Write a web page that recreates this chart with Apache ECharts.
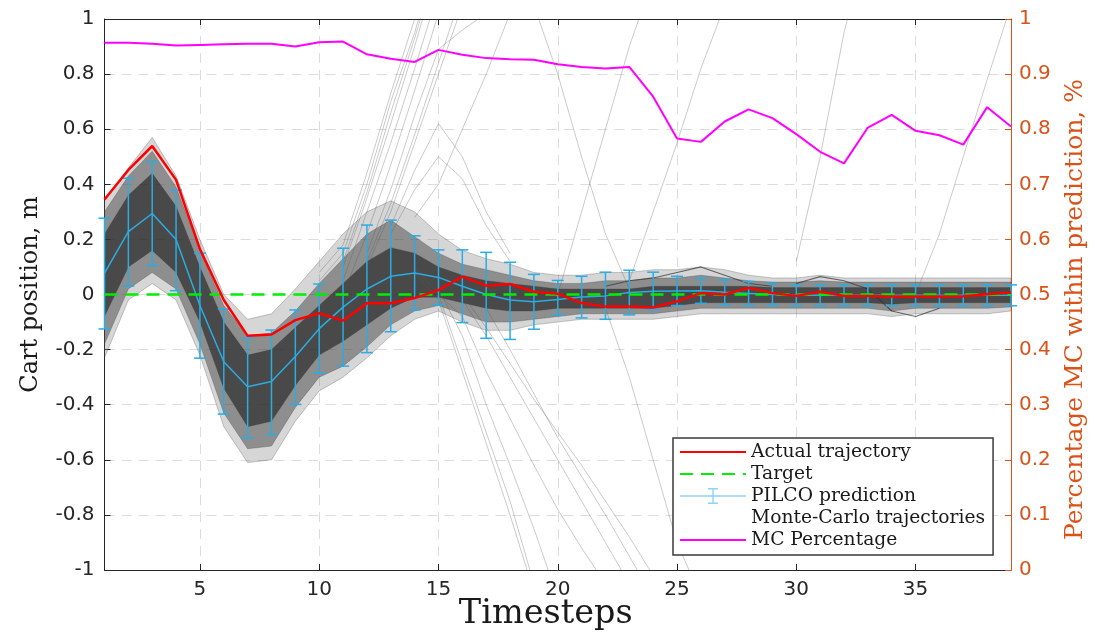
<!DOCTYPE html>
<html>
<head>
<meta charset="utf-8">
<script src="https://cdn.jsdelivr.net/npm/echarts@6/dist/echarts.min.js"></script>
<style>html,body{margin:0;padding:0;background:#fff;}#c{width:1099px;height:635px;}</style>
</head>
<body>
<div id="c"></div>
<script>
// ---------- data ----------
const timesteps = [1,2,3,4,5,6,7,8,9,10,11,12,13,14,15,16,17,18,19,20,21,22,23,24,25,26,27,28,29,30,31,32,33,34,35,36,37,38,39];
const xTickValues = [5,10,15,20,25,30,35];

const actualTrajectory = [0.345,0.452,0.539,0.416,0.165,-0.02,-0.15,-0.145,-0.093,-0.068,-0.095,-0.032,-0.032,-0.013,0.016,0.065,0.032,0.038,0.01,0.003,-0.031,-0.044,-0.044,-0.047,-0.025,0.005,0.0,0.024,0.005,-0.005,0.01,-0.005,-0.005,-0.007,-0.007,-0.007,-0.006,0.001,0.007];
const targetValues = [0,0,0,0,0,0,0,0,0,0,0,0,0,0,0,0,0,0,0,0,0,0,0,0,0,0,0,0,0,0,0,0,0,0,0,0,0,0,0];

const pilcoMean  = [0.078,0.228,0.294,0.2,-0.04,-0.244,-0.335,-0.316,-0.225,-0.124,-0.046,0.02,0.066,0.078,0.062,0.03,0.0,-0.02,-0.026,-0.018,-0.009,-0.005,0.007,0.012,0.013,0.014,0.008,0.004,0.0,-0.003,-0.003,-0.003,-0.003,-0.003,-0.003,-0.003,-0.003,-0.003,-0.003];
const pilcoUpper = [0.277,0.422,0.482,0.379,0.15,-0.053,-0.158,-0.129,-0.056,0.038,0.168,0.252,0.27,0.213,0.162,0.162,0.153,0.117,0.073,0.051,0.066,0.081,0.088,0.081,0.066,0.059,0.054,0.047,0.04,0.035,0.035,0.035,0.035,0.035,0.035,0.035,0.035,0.035,0.035];
const pilcoLower = [-0.125,0.031,0.105,0.014,-0.231,-0.434,-0.52,-0.508,-0.399,-0.286,-0.26,-0.211,-0.135,-0.056,-0.038,-0.102,-0.159,-0.163,-0.126,-0.075,-0.085,-0.09,-0.074,-0.056,-0.04,-0.032,-0.038,-0.04,-0.04,-0.041,-0.041,-0.041,-0.041,-0.041,-0.041,-0.041,-0.041,-0.041,-0.041];

const mcPercentage = [0.957,0.957,0.955,0.952,0.953,0.954,0.955,0.955,0.950,0.958,0.959,0.936,0.928,0.922,0.944,0.935,0.929,0.927,0.926,0.918,0.913,0.910,0.913,0.859,0.783,0.777,0.814,0.836,0.820,0.791,0.759,0.738,0.803,0.826,0.797,0.789,0.772,0.840,0.805];

// Monte-Carlo bundle envelopes (outer / middle / core)
const mcOuterLo = [-0.23,-0.02,0.04,-0.02,-0.22,-0.48,-0.61,-0.60,-0.46,-0.35,-0.30,-0.23,-0.15,-0.09,-0.06,-0.10,-0.13,-0.13,-0.11,-0.10,-0.09,-0.09,-0.09,-0.09,-0.08,-0.07,-0.07,-0.07,-0.07,-0.07,-0.07,-0.07,-0.07,-0.08,-0.07,-0.07,-0.07,-0.07,-0.06];
const mcMidLo   = [-0.18,0.02,0.08,0.02,-0.18,-0.43,-0.56,-0.55,-0.41,-0.30,-0.26,-0.19,-0.11,-0.06,-0.04,-0.07,-0.10,-0.10,-0.09,-0.08,-0.07,-0.07,-0.07,-0.07,-0.06,-0.05,-0.05,-0.05,-0.05,-0.05,-0.05,-0.05,-0.05,-0.06,-0.05,-0.05,-0.05,-0.05,-0.045];
const mcCoreLo  = [-0.08,0.10,0.16,0.08,-0.10,-0.34,-0.48,-0.46,-0.33,-0.22,-0.17,-0.11,-0.05,-0.01,-0.01,-0.03,-0.05,-0.06,-0.06,-0.05,-0.05,-0.05,-0.05,-0.05,-0.04,-0.03,-0.03,-0.03,-0.03,-0.03,-0.03,-0.03,-0.03,-0.035,-0.03,-0.03,-0.03,-0.03,-0.03];
const mcCoreHi  = [0.22,0.36,0.44,0.32,0.10,-0.10,-0.22,-0.20,-0.12,-0.04,0.04,0.12,0.17,0.15,0.10,0.07,0.05,0.04,0.03,0.02,0.02,0.02,0.02,0.03,0.03,0.03,0.03,0.03,0.025,0.025,0.025,0.025,0.025,0.025,0.025,0.025,0.025,0.025,0.025];
const mcMidHi   = [0.30,0.43,0.52,0.39,0.16,-0.04,-0.15,-0.14,-0.06,0.04,0.13,0.22,0.27,0.21,0.15,0.11,0.09,0.07,0.05,0.04,0.04,0.05,0.05,0.06,0.06,0.07,0.06,0.05,0.045,0.045,0.05,0.045,0.045,0.045,0.045,0.045,0.045,0.045,0.045];
const mcOuterHi = [0.34,0.46,0.57,0.43,0.20,0.00,-0.09,-0.07,0.02,0.12,0.22,0.30,0.34,0.30,0.22,0.16,0.13,0.11,0.08,0.07,0.07,0.08,0.08,0.09,0.09,0.10,0.09,0.07,0.06,0.06,0.07,0.06,0.06,0.06,0.06,0.06,0.06,0.06,0.06];

// individual stray Monte-Carlo trajectories, [timestep, position]
const mcStrayTrajectories = [
  [[10,0.05],[11,0.15],[12,0.4],[13,0.7],[14,0.95],[15,1.25]],
  [[10,0.08],[11,0.18],[12,0.44],[13,0.73],[14,1.0],[15,1.3]],
  [[11,0.1],[12,0.35],[13,0.62],[14,0.9],[15,1.2]],
  [[11,0.12],[12,0.37],[13,0.66],[14,0.93],[15,1.22]],
  [[11,0.05],[12,0.3],[13,0.55],[14,0.82],[15,1.1]],
  [[11,0.0],[12,0.22],[13,0.47],[14,0.74],[15,1.02]],
  [[12,0.15],[13,0.38],[14,0.65],[15,0.89],[16,0.96],[17,1.02]],
  [[12,0.12],[13,0.33],[14,0.58],[15,0.84],[16,1.1]],
  [[12,0.1],[13,0.3],[14,0.55],[15,0.8],[16,1.05]],
  [[13,0.25],[14,0.45],[15,0.62],[16,0.5],[17,0.3],[18,0.15]],
  [[13,0.22],[14,0.38],[15,0.5],[16,0.42],[17,0.25],[18,0.12]],
  [[14,0.28],[15,0.4],[16,0.6],[17,0.8],[18,1.02]],
  [[14,0.1],[15,0.0],[16,-0.25],[17,-0.5],[18,-0.75],[19,-1.05]],
  [[14,0.08],[15,-0.02],[16,-0.28],[17,-0.54],[18,-0.8],[19,-1.08]],
  [[15,0.02],[16,-0.15],[17,-0.4],[18,-0.62],[19,-0.85],[20,-1.1]],
  [[15,0.0],[16,-0.08],[17,-0.28],[18,-0.45],[19,-0.62],[20,-0.78],[21,-0.92],[22,-1.05]],
  [[16,0.0],[17,-0.12],[18,-0.25],[19,-0.38],[20,-0.5],[21,-0.62],[22,-0.75],[23,-0.88],[24,-1.02]],
  [[16,-0.02],[17,-0.15],[18,-0.3],[19,-0.45],[20,-0.6],[21,-0.75],[22,-0.9],[23,-1.05]],
  [[17,-0.05],[18,-0.2],[19,-0.36],[20,-0.52],[21,-0.66],[22,-0.8],[23,-0.95],[24,-1.1]],
  [[20,0.0],[21,0.3],[22,0.6],[23,0.9],[24,1.15]],
  [[19,1.05],[20,0.8],[21,0.5],[22,0.22],[23,0.02]],
  [[23,0.05],[24,0.3],[25,0.55],[26,0.82],[27,1.05]],
  [[22,-0.05],[23,-0.3],[24,-0.6],[25,-0.9],[26,-1.1]],
  [[30,0.12],[31,0.5],[32,0.95],[33,1.3]],
  [[35,0.0],[36,0.22],[37,0.5],[38,0.78],[39,1.05]]
];
// darker single trajectories visible at the edge of the bundle
const mcEdgeTrajectoryA = [[22,0.03],[23,0.05],[24,0.06],[25,0.08],[26,0.1],[27,0.07],[28,0.04],[29,0.03]];
const mcEdgeTrajectoryB = [[30,0.04],[31,0.065],[32,0.05],[33,0.02],[34,-0.06],[35,-0.08],[36,-0.05]];

// ---------- chart ----------
const AX = '#262626';
const ORANGE = '#D95319';
const BLUE = '#2BACE2';
const SERIF = 'DejaVu Serif';
const SANS = 'DejaVu Sans';

function pairs(ys) { return timesteps.map((t, i) => [t, ys[i]]); }

const bandLayers = [
  [mcOuterLo, mcOuterHi, 'rgba(120,120,120,0.3)'],
  [mcMidLo, mcMidHi, 'rgba(70,70,70,0.5)'],
  [mcCoreLo, mcCoreHi, 'rgba(40,40,40,0.68)']
];

const series = [];
series.push({
  name: 'Monte-Carlo trajectories',
  type: 'custom',
  silent: true,
  z: 1,
  data: [[1, 0]],
  encode: { x: 0, y: 1 },
  renderItem: function (params, api) {
    const children = bandLayers.map(function (layer) {
      const lo = layer[0], hi = layer[1];
      const pts = [];
      for (let i = 0; i < timesteps.length; i++) pts.push(api.coord([timesteps[i], hi[i]]));
      for (let i = timesteps.length - 1; i >= 0; i--) pts.push(api.coord([timesteps[i], lo[i]]));
      return { type: 'polygon', shape: { points: pts }, style: { fill: layer[2], stroke: 'rgba(60,60,60,0.35)', lineWidth: 0.8 } };
    });
    return { type: 'group', children: children };
  }
});
mcStrayTrajectories.forEach(function (tr) {
  series.push({
    name: 'Monte-Carlo trajectories', type: 'line', data: tr, symbol: 'none', silent: true, z: 2,
    lineStyle: { color: 'rgba(90,90,90,0.32)', width: 1 }, clip: true
  });
});
[mcEdgeTrajectoryA, mcEdgeTrajectoryB].forEach(function (tr) {
  series.push({
    name: 'Monte-Carlo trajectories', type: 'line', data: tr, symbol: 'none', silent: true, z: 2,
    lineStyle: { color: 'rgba(50,50,50,0.7)', width: 1.2 }
  });
});
series.push({
  name: 'PILCO prediction', type: 'custom', z: 3, silent: true,
  data: timesteps.map((t, i) => [t, pilcoLower[i], pilcoUpper[i]]),
  encode: { x: 0, y: [1, 2] },
  renderItem: function (params, api) {
    const lo = api.coord([api.value(0), api.value(1)]);
    const hi = api.coord([api.value(0), api.value(2)]);
    const w = 6;
    const st = { stroke: BLUE, lineWidth: 1.5 };
    return { type: 'group', children: [
      { type: 'line', shape: { x1: lo[0], y1: lo[1], x2: hi[0], y2: hi[1] }, style: st },
      { type: 'line', shape: { x1: lo[0] - w, y1: lo[1], x2: lo[0] + w, y2: lo[1] }, style: st },
      { type: 'line', shape: { x1: hi[0] - w, y1: hi[1], x2: hi[0] + w, y2: hi[1] }, style: st }
    ]};
  }
});
series.push({
  name: 'PILCO prediction', type: 'line', data: pairs(pilcoMean), symbol: 'none', z: 3,
  lineStyle: { color: BLUE, width: 1.5 }, itemStyle: { color: BLUE }
});
series.push({
  name: 'Target', type: 'line', data: pairs(targetValues), symbol: 'none', z: 4,
  lineStyle: { color: '#00EE00', width: 2.5, type: [13, 8] }, itemStyle: { color: '#00EE00' }
});
series.push({
  name: 'Actual trajectory', type: 'line', data: pairs(actualTrajectory), symbol: 'none', z: 5,
  lineStyle: { color: '#FF0000', width: 2.5 }, itemStyle: { color: '#FF0000' }
});
series.push({
  name: 'MC Percentage', type: 'line', yAxisIndex: 1, data: pairs(mcPercentage), symbol: 'none', z: 6,
  lineStyle: { color: '#FF00FF', width: 2 }, itemStyle: { color: '#FF00FF' }
});

const gridLine = { show: true, lineStyle: { color: '#dcdcdc', width: 1, type: [10, 7] } };

const option = {
  animation: false,
  backgroundColor: '#ffffff',
  grid: { left: 104.5, right: 88, top: 19, bottom: 65, containLabel: false, outerBoundsMode: 'none' },
  legend: {
    orient: 'vertical',
    left: 673, top: 438,
    backgroundColor: '#ffffff',
    borderColor: '#3a3a3a', borderWidth: 1.5,
    padding: [4, 8, 5, 6],
    itemWidth: 66, itemHeight: 18, itemGap: 2,
    textStyle: { fontFamily: SERIF, fontSize: 18.7, color: '#1a1a1a', lineHeight: 20 },
    data: [
      { name: 'Actual trajectory', itemStyle: { opacity: 0 } },
      { name: 'Target', itemStyle: { opacity: 0 } },
      { name: 'PILCO prediction', icon: 'path://M0,8.3L66,8.3L66,9.7L0,9.7Z M32.3,1.5L33.7,1.5L33.7,16.5L32.3,16.5Z M28,1L38,1L38,2.4L28,2.4Z M28,15.6L38,15.6L38,17L28,17Z', itemStyle: { color: '#8FD3F4' } },
      { name: 'Monte-Carlo trajectories', itemStyle: { opacity: 0 }, lineStyle: { opacity: 0 } },
      { name: 'MC Percentage', itemStyle: { opacity: 0 } }
    ]
  },
  xAxis: [
    {
      type: 'value', min: 1, max: 39, position: 'bottom',
      axisLine: { show: true, onZero: false, lineStyle: { color: AX, width: 1 } },
      axisTick: { show: true, inside: true, length: 6, customValues: xTickValues, lineStyle: { color: AX } },
      axisLabel: { customValues: xTickValues, fontFamily: SANS, fontSize: 20, color: AX, margin: 10 },
      splitLine: gridLine,
      name: 'Timesteps', nameLocation: 'middle', nameGap: 27, nameMoveOverlap: false,
      nameTextStyle: { fontFamily: SERIF, fontSize: 33.5, color: '#1a1a1a', padding: [0, 24, 0, 0] }
    },
    {
      type: 'value', min: 1, max: 39, position: 'top',
      axisLine: { show: true, onZero: false, lineStyle: { color: AX, width: 1 } },
      axisTick: { show: true, inside: true, length: 6, customValues: xTickValues, lineStyle: { color: AX } },
      axisLabel: { show: false },
      splitLine: { show: false }
    }
  ],
  yAxis: [
    {
      type: 'value', min: -1, max: 1, interval: 0.2, position: 'left',
      axisLine: { show: true, onZero: false, lineStyle: { color: AX, width: 1 } },
      axisTick: { show: true, inside: true, length: 6, lineStyle: { color: AX } },
      axisLabel: { fontFamily: SANS, fontSize: 20, color: AX, margin: 10 },
      splitLine: gridLine,
      name: 'Cart position, m', nameLocation: 'middle', nameRotate: 90, nameGap: 62, nameMoveOverlap: false,
      nameTextStyle: { fontFamily: SERIF, fontSize: 24, color: '#1a1a1a' }
    },
    {
      type: 'value', min: 0, max: 1, interval: 0.1, position: 'right',
      axisLine: { show: true, onZero: false, lineStyle: { color: ORANGE, width: 1 } },
      axisTick: { show: true, inside: true, length: 6, lineStyle: { color: ORANGE } },
      axisLabel: { fontFamily: SANS, fontSize: 20, color: ORANGE, margin: 8 },
      splitLine: { show: false },
      name: 'Percentage MC within prediction, %', nameLocation: 'middle', nameRotate: 90, nameGap: 52, nameMoveOverlap: false,
      nameTextStyle: { fontFamily: SERIF, fontSize: 25, color: ORANGE, padding: [0, 30, 0, 0] }
    }
  ],
  series: series
};

const chart = echarts.init(document.getElementById('c'), null, { renderer: 'canvas' });
chart.setOption(option);
</script>
</body>
</html>
